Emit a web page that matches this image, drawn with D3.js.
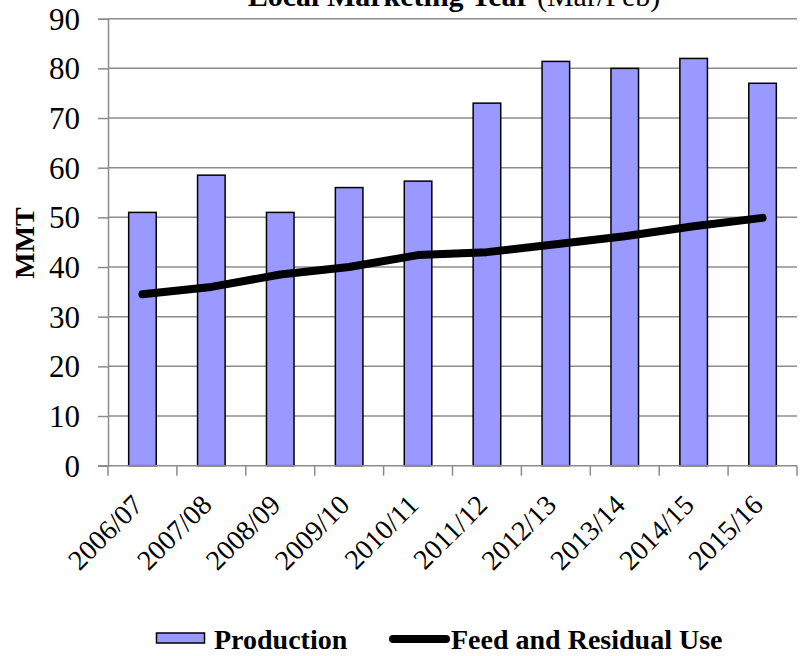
<!DOCTYPE html>
<html>
<head>
    <meta charset="utf-8">
    <title>Production and Feed Use</title>
    <script src="https://cdn.jsdelivr.net/npm/d3@7"></script>
    <style>
        body { margin: 0; background: #fff; }
        text { font-family: "Liberation Serif", "Times New Roman", serif; fill: #000; }
    </style>
</head>
<body>
<div id="chart"></div>
<script>
    // data
    const years = ["2006/07", "2007/08", "2008/09", "2009/10", "2010/11",
                   "2011/12", "2012/13", "2013/14", "2014/15", "2015/16"];
    const production = [51, 58.5, 51, 56, 57.3, 73, 81.4, 80, 82, 77];
    const feedUse = [34.5, 36, 38.5, 40, 42.4, 43, 44.6, 46.2, 48.2, 49.9];
    const yTicks = [0, 10, 20, 30, 40, 50, 60, 70, 80, 90];

    const width = 804, height = 656;
    const plotLeft = 108, plotRight = 797, plotTop = 18.7, plotBottom = 465.7;

    const svg = d3.select("#chart").append("svg")
        .attr("width", width)
        .attr("height", height);

    // title, cut off at the top like the original
    const title = svg.append("text")
        .attr("x", 454)
        .attr("y", 6)
        .attr("text-anchor", "middle")
        .attr("font-size", 30);
    title.append("tspan").attr("font-weight", "bold").text("Local Marketing Year ");
    title.append("tspan").text("(Mar/Feb)");

    const x = d3.scaleBand()
        .domain(years)
        .range([plotLeft, plotRight])
        .paddingInner(0.6)
        .paddingOuter(0.3);

    const y = d3.scaleLinear()
        .domain([0, 90])
        .range([plotBottom, plotTop]);

    // gridlines
    svg.append("g")
        .selectAll("line")
        .data(yTicks.slice(1))
        .enter().append("line")
        .attr("x1", plotLeft)
        .attr("x2", plotRight)
        .attr("y1", d => y(d))
        .attr("y2", d => y(d))
        .attr("stroke", "#8c8c8c")
        .attr("stroke-width", 1.5);

    // y axis
    const yAxis = svg.append("g")
        .attr("transform", `translate(${plotLeft},0)`)
        .call(d3.axisLeft(y).tickValues(yTicks).tickSize(10).tickPadding(18));
    yAxis.attr("font-family", null);
    yAxis.select(".domain").attr("stroke", "#8c8c8c").attr("stroke-width", 1.5);
    yAxis.selectAll(".tick line").attr("stroke", "#8c8c8c").attr("stroke-width", 1.5);
    yAxis.selectAll(".tick text")
        .attr("font-size", 31)
        .attr("dy", "0.34em");

    // bars
    svg.append("g")
        .selectAll("rect")
        .data(years)
        .enter().append("rect")
        .attr("x", d => x(d))
        .attr("y", (d, i) => y(production[i]))
        .attr("width", x.bandwidth())
        .attr("height", (d, i) => plotBottom - y(production[i]))
        .attr("fill", "#9999ff")
        .attr("stroke", "#000")
        .attr("stroke-width", 1.5);

    // x axis with ticks between categories
    const bounds = d3.range(years.length + 1).map(i => plotLeft + i * (plotRight - plotLeft) / years.length);
    svg.append("line")
        .attr("x1", plotLeft - 10).attr("x2", plotRight)
        .attr("y1", plotBottom).attr("y2", plotBottom)
        .attr("stroke", "#8c8c8c").attr("stroke-width", 1.5);
    svg.append("g")
        .selectAll("line")
        .data(bounds)
        .enter().append("line")
        .attr("x1", d => d).attr("x2", d => d)
        .attr("y1", plotBottom).attr("y2", plotBottom + 10)
        .attr("stroke", "#8c8c8c").attr("stroke-width", 1.5);

    svg.append("g")
        .selectAll("text")
        .data(years)
        .enter().append("text")
        .attr("transform", d => `translate(${x(d) + x.bandwidth() / 2 + 2},${plotBottom + 41}) rotate(-45)`)
        .attr("text-anchor", "end")
        .attr("font-size", 28)
        .text(d => d);

    // feed and residual use line
    const line = d3.line()
        .x((d, i) => x(years[i]) + x.bandwidth() / 2)
        .y(d => y(d));

    svg.append("path")
        .datum(feedUse)
        .attr("d", line)
        .attr("fill", "none")
        .attr("stroke", "#000")
        .attr("stroke-width", 8)
        .attr("stroke-linecap", "round")
        .attr("stroke-linejoin", "round");

    // y axis title
    svg.append("text")
        .attr("transform", "translate(34,243) rotate(-90)")
        .attr("text-anchor", "middle")
        .attr("font-size", 28)
        .attr("font-weight", "bold")
        .text("MMT");

    // legend
    const legend = svg.append("g");
    legend.append("rect")
        .attr("x", 156.5).attr("y", 633)
        .attr("width", 48).attr("height", 10)
        .attr("fill", "#9999ff").attr("stroke", "#000").attr("stroke-width", 1.5);
    legend.append("text")
        .attr("x", 214).attr("y", 649)
        .attr("font-size", 28).attr("font-weight", "bold")
        .text("Production");
    legend.append("line")
        .attr("x1", 393).attr("x2", 446)
        .attr("y1", 639).attr("y2", 639)
        .attr("stroke", "#000").attr("stroke-width", 8)
        .attr("stroke-linecap", "round");
    legend.append("text")
        .attr("x", 451).attr("y", 649)
        .attr("font-size", 28).attr("font-weight", "bold")
        .text("Feed and Residual Use");
</script>
</body>
</html>
